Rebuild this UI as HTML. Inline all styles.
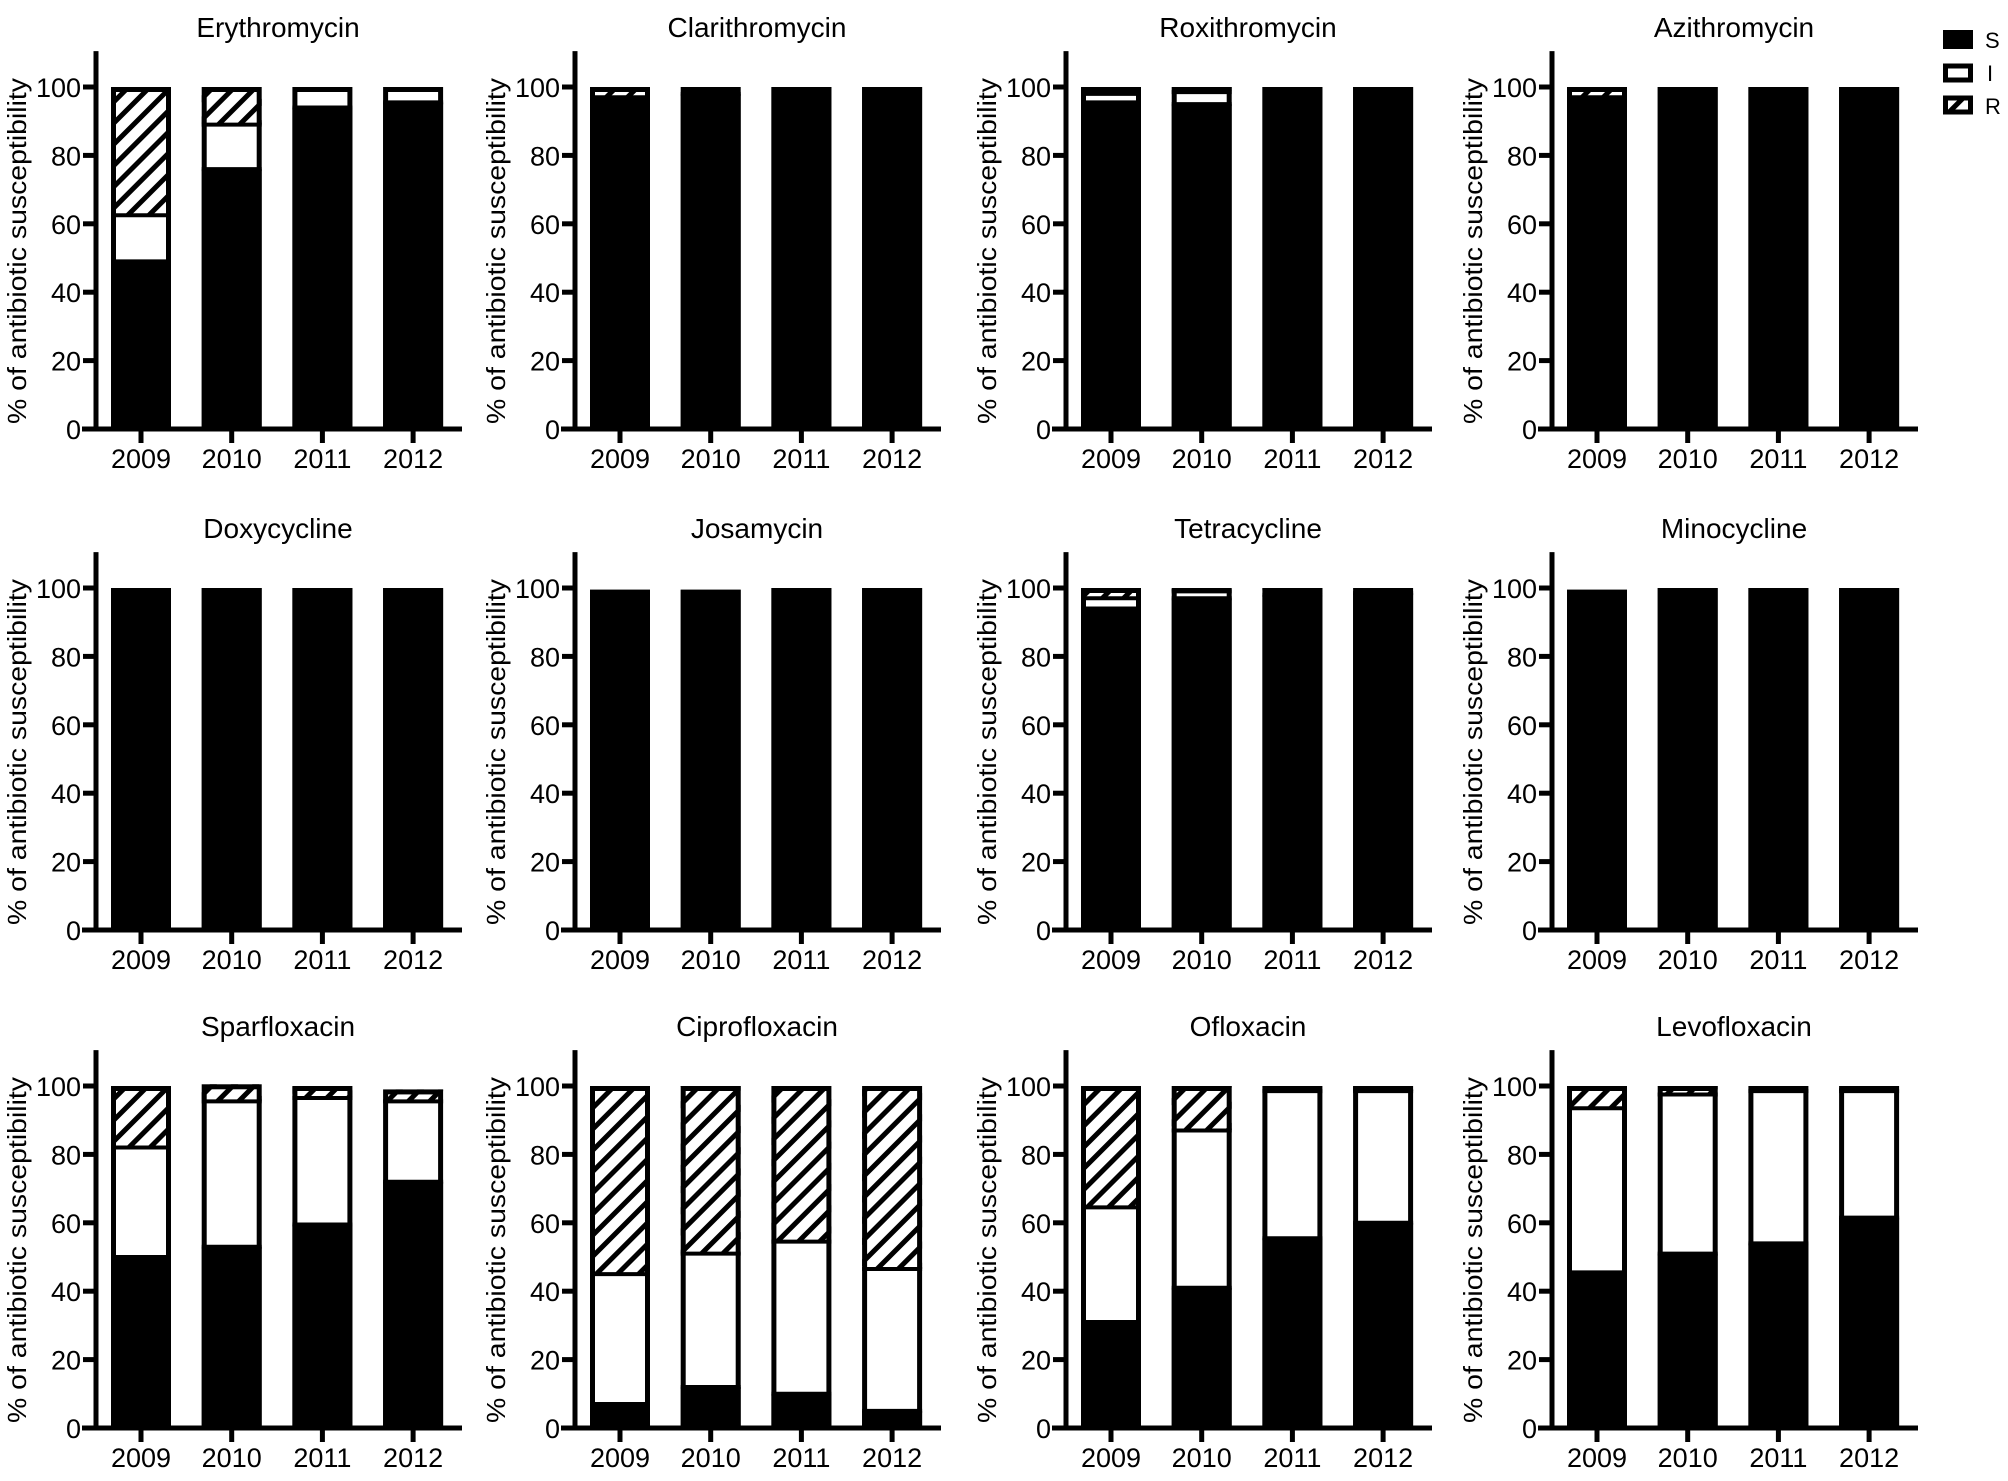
<!DOCTYPE html>
<html><head><meta charset="utf-8">
<style>
html,body{margin:0;padding:0;background:#fff;}
svg{display:block;font-family:"Liberation Sans",Arial,sans-serif;}
</style></head>
<body>
<svg id="chart" width="2008" height="1481" viewBox="0 0 2008 1481" xmlns="http://www.w3.org/2000/svg">
<defs>
<pattern id="hatch" patternUnits="userSpaceOnUse" width="15" height="15" patternTransform="rotate(45)">
<rect width="15" height="15" fill="#fff"/>
<rect x="0" y="0" width="5" height="15" fill="#000"/>
</pattern>
</defs>
<g id="legend">
<rect x="1943" y="30" width="30" height="19" fill="#000"/>
<text x="1985" y="48" font-size="22">S</text>
<rect x="1945.5" y="66" width="25" height="14" fill="#fff" stroke="#000" stroke-width="5"/>
<text x="1987" y="81" font-size="22">I</text>
<rect x="1945.5" y="98" width="25" height="14" fill="url(#hatch)" stroke="#000" stroke-width="5"/>
<text x="1985" y="114" font-size="22">R</text>
</g>
</svg>
<script>
const drugs = ["Erythromycin","Clarithromycin","Roxithromycin","Azithromycin","Doxycycline","Josamycin","Tetracycline","Minocycline","Sparfloxacin","Ciprofloxacin","Ofloxacin","Levofloxacin"];
const years = ["2009","2010","2011","2012"];
const yTicks = [0,20,40,60,80,100];
const sValues = [
 [49,76,94,95.5],[97,98,100,100],[95.5,95,100,100],[97,100,100,100],
 [98,100,100,100],[99.5,99.5,100,100],[94,97,98,98.5],[99.5,100,100,100],
 [50,53,59.5,72],[7,12,10,5],[31,41,55.5,60],[45.5,51,54,61.5]
];
const iValues = [
 [13.5,13,6,4.5],[0,2,0,0],[2.5,3.5,0,0],[0,0,0,0],
 [0,0,0,0],[0,0,0,0],[3,2,0,0],[0,0,0,0],
 [32,42.5,37,23.5],[38,39,44.5,41.5],[33.5,46,43,38.5],[48,46.5,44.5,37]
];
const rValues = [
 [37.5,11,0,0],[3,0,0,0],[2,1.5,0,0],[3,0,0,0],
 [2,0,0,0],[0,0,0,0],[3,1,2,1.5],[0,0,0,0],
 [18,5,3.5,3.5],[55,49,45.5,53.5],[35.5,13,1.5,1.5],[6.5,2.5,1.5,1.5]
];

const NS = "http://www.w3.org/2000/svg";
const svg = document.getElementById("chart");
const colX = [96, 575, 1066, 1552];
const rowBase = [429, 930, 1428];
const PX = 3.42;
function mk(tag, attrs){ const e=document.createElementNS(NS,tag); for(const k in attrs) e.setAttribute(k,attrs[k]); return e; }

drugs.forEach((drug, d) => {
  const ax = colX[d % 4], base = rowBase[Math.floor(d / 4)];
  const yScale = v => base - v * PX;
  const xCenter = i => ax + 45 + i * 90.7;
  const g = mk("g", {});
  
  
  svg.appendChild(g);

  const title = mk("text", {x: ax + 182, y: base - 392, "font-size": 28, "text-anchor": "middle"});
  
  
  title.textContent = drug; g.appendChild(title);

  const yt = mk("text", {transform: `translate(${ax - 70},${base - 178}) rotate(-90)`, "font-size": 26, "text-anchor": "middle", textLength: 346, lengthAdjust: "spacingAndGlyphs"});
  
  
  yt.textContent = "% of antibiotic susceptibility"; g.appendChild(yt);

  years.forEach((yr, i) => {
    const x = xCenter(i) - 30;
    const segs = [[sValues[d][i], "#000", "s"], [iValues[d][i], "#fff", "i"], [rValues[d][i], "url(#hatch)", "r"]];
    let acc = 0;
    const bounds = [];
    segs.forEach(([v, fill, key]) => {
      if (v <= 0) return;
      const y0 = yScale(acc + v), y1 = yScale(acc);
      const r = mk("rect", {x: x, y: y0, width: 60, height: Math.max(0.1, y1 - y0), fill: fill});
      
      
      g.appendChild(r);
      if (acc > 0) bounds.push(acc);
      acc += v;
    });
    bounds.forEach(b => {
      const bl = mk("line", {x1: x, x2: x + 60, y1: yScale(b), y2: yScale(b), stroke: "#000", "stroke-width": 4});
      
      
      g.appendChild(bl);
    });
    const ol = mk("rect", {x: x + 2.5, y: yScale(acc) + 2.5, width: 55, height: Math.max(0.1, acc * PX - 5), fill: "none", stroke: "#000", "stroke-width": 5});
    
    
    g.appendChild(ol);

    const tk = mk("line", {x1: xCenter(i), x2: xCenter(i), y1: base, y2: base + 14, stroke: "#000", "stroke-width": 5});
    
    
    g.appendChild(tk);
    const lb = mk("text", {x: xCenter(i), y: base + 39, "font-size": 27, "text-anchor": "middle"});
    
    
    lb.textContent = yr; g.appendChild(lb);
  });

  const yAxis = mk("line", {x1: ax, x2: ax, y1: yScale(110.5), y2: base + 2.5, stroke: "#000", "stroke-width": 5});
  
  
  g.appendChild(yAxis);
  const xAxis = mk("line", {x1: ax - 14, x2: ax + 366, y1: base, y2: base, stroke: "#000", "stroke-width": 5});
  
  
  g.appendChild(xAxis);

  yTicks.forEach(t => {
    const y = yScale(t);
    const l = mk("line", {x1: ax - 13, x2: ax, y1: y, y2: y, stroke: "#000", "stroke-width": 5});
    
    
    g.appendChild(l);
    const tx = mk("text", {x: ax - 15, y: y + 10, "font-size": 27, "text-anchor": "end"});
    
    
    tx.textContent = t; g.appendChild(tx);
  });
});
</script>
</body></html>
